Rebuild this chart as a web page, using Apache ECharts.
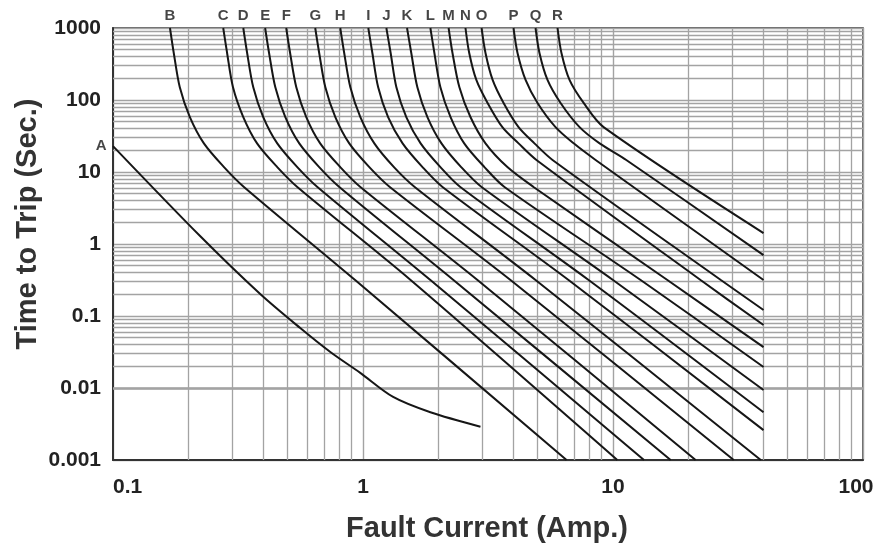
<!DOCTYPE html>
<html>
<head>
    <meta charset="utf-8" />
    <title>Time to Trip vs Fault Current</title>
    <script src="https://cdn.jsdelivr.net/npm/echarts@6/dist/echarts.min.js"></script>
    <style type="text/css">
        html, body {
            margin: 0;
            padding: 0;
            background-color: #ffffff;
            overflow: hidden;
        }

        #chart {
            width: 875px;
            height: 548px;
        }
    </style>
</head>
<body>
    <div id="chart"></div>
    <script type="text/javascript">
        // tick labels
        var xTicks = [0.1, 1, 10, 100];
        var yTicks = [0.001, 0.01, 0.1, 1, 10, 100, 1000];
        var minorSteps = [2, 3, 4, 5, 6, 7, 8, 9];

        // curves: [fault current (A), time to trip (s)]
        var curveNames = ['A', 'B', 'C', 'D', 'E', 'F', 'G', 'H', 'I', 'J', 'K', 'L', 'M', 'N', 'O', 'P', 'Q', 'R'];
        var curveA = [[0.1, 22.9], [0.223, 1.29], [0.388, 0.202], [0.561, 0.068], [0.74, 0.0316], [0.975, 0.0162], [1.32, 0.0075], [1.86, 0.0046], [2.95, 0.0029]];
        var curveB = [[0.169, 1000], [0.175, 450], [0.185, 150], [0.203, 58], [0.231, 25], [0.278, 11.7], [0.334, 6.2], [0.93, 0.316], [6.52, 0.001]];
        var curveC = [[0.276, 1000], [0.286, 450], [0.302, 150], [0.332, 58], [0.377, 25], [0.454, 11.7], [0.546, 6.2], [1.55, 0.316], [10.4, 0.001]];
        var curveD = [[0.332, 1000], [0.344, 450], [0.364, 150], [0.399, 58], [0.454, 25], [0.546, 11.7], [0.657, 6.2], [1.86, 0.316], [13.3, 0.001]];
        var curveE = [[0.406, 1000], [0.421, 450], [0.446, 150], [0.489, 58], [0.556, 25], [0.668, 11.7], [0.804, 6.2], [2.30, 0.316], [17.0, 0.001]];
        var curveF = [[0.493, 1000], [0.511, 450], [0.541, 150], [0.593, 58], [0.674, 25], [0.811, 11.7], [0.976, 6.2], [2.87, 0.316], [21.4, 0.001]];
        var curveG = [[0.644, 1000], [0.668, 450], [0.707, 150], [0.775, 58], [0.881, 25], [1.06, 11.7], [1.28, 6.2], [3.89, 0.316], [30.4, 0.001]];
        var curveH = [[0.811, 1000], [0.841, 450], [0.890, 150], [0.976, 58], [1.11, 25], [1.33, 11.7], [1.61, 6.2], [4.90, 0.316], [39.0, 0.001]];
        var curveI = [[1.05, 1000], [1.09, 450], [1.15, 150], [1.26, 58], [1.44, 25], [1.73, 11.7], [2.08, 6.2], [6.64, 0.316], [40, 0.0026]];
        var curveJ = [[1.24, 1000], [1.29, 450], [1.36, 150], [1.49, 58], [1.70, 25], [2.04, 11.7], [2.45, 6.2], [7.99, 0.316], [40, 0.0046]];
        var curveK = [[1.50, 1000], [1.56, 450], [1.65, 150], [1.81, 58], [2.06, 25], [2.47, 11.7], [2.98, 6.2], [10.0, 0.316], [40, 0.0094]];
        var curveL = [[1.86, 1000], [1.93, 450], [2.04, 150], [2.24, 58], [2.54, 25], [3.06, 11.7], [3.68, 6.2], [12.9, 0.316], [40, 0.0196]];
        var curveM = [[2.20, 1000], [2.28, 450], [2.43, 150], [2.69, 58], [3.09, 25], [3.78, 11.7], [4.81, 6.2], [16.5, 0.316], [40, 0.037]];
        var curveN = [[2.57, 1000], [2.66, 450], [2.84, 190], [3.15, 91], [3.61, 42], [4.19, 25], [4.94, 14.7], [22.4, 0.316], [40, 0.075]];
        var curveO = [[2.98, 1000], [3.09, 450], [3.30, 190], [3.65, 91], [4.19, 42], [4.85, 25], [5.73, 14.7], [27.0, 0.316], [40, 0.121]];
        var curveP = [[4.0, 1000], [4.15, 450], [4.47, 190], [4.99, 91], [5.89, 42], [6.96, 25], [8.52, 14.7], [40, 0.316]];
        var curveQ = [[4.9, 1000], [5.08, 450], [5.47, 190], [6.17, 91], [7.35, 42], [8.84, 25], [11.3, 14.7], [40, 0.70]];
        var curveR = [[6.0, 1000], [6.22, 450], [6.70, 190], [7.63, 91], [9.17, 42], [40, 1.42]];

        var curves = [curveA, curveB, curveC, curveD, curveE, curveF, curveG, curveH, curveI,
            curveJ, curveK, curveL, curveM, curveN, curveO, curveP, curveQ, curveR];

        var FONT = 'Liberation Sans, Arial, Helvetica, sans-serif';
        var GRID_COLOR = '#a3a3a3';
        var TICK_COLOR = '#222222';

        var fmt = function (v) {
            return String(Number(v.toPrecision(3)));
        };

        // log grid lines at 2..9 of every decade
        var gridLines = [];
        var addLines = function (ticks, key) {
            for (var i = 0; i < ticks.length - 1; i++) {
                for (var j = 0; j < minorSteps.length; j++) {
                    var item = {};
                    item[key] = Number((ticks[i] * minorSteps[j]).toPrecision(3));
                    gridLines.push(item);
                }
            }
        };
        addLines(xTicks, 'xAxis');
        addLines(yTicks, 'yAxis');

        var series = [{
            name: 'grid',
            type: 'line',
            data: [[xTicks[0], yTicks[0]]],
            showSymbol: false,
            lineStyle: { opacity: 0 },
            silent: true,
            z: 1,
            markLine: {
                silent: true,
                z: 1,
                symbol: ['none', 'none'],
                label: { show: false },
                lineStyle: { color: GRID_COLOR, width: 1.3, type: 'solid' },
                emphasis: { disabled: true },
                data: gridLines
            }
        }];

        var labelData = [];
        for (var k = 0; k < curves.length; k++) {
            series.push({
                name: curveNames[k],
                type: 'line',
                data: curves[k],
                showSymbol: false,
                smooth: 0.3,
                silent: true,
                z: 10,
                lineStyle: { color: '#161616', width: 2 }
            });
            var lab = { name: curveNames[k], value: curves[k][0] };
            if (curveNames[k] === 'A') {
                lab.label = { position: 'left', distance: 6 };
            }
            labelData.push(lab);
        }

        series.push({
            name: 'labels',
            type: 'scatter',
            data: labelData,
            symbolSize: 1,
            itemStyle: { color: 'rgba(0,0,0,0)' },
            silent: true,
            z: 11,
            label: {
                show: true,
                position: 'top',
                distance: 4,
                formatter: '{b}',
                fontFamily: FONT,
                fontWeight: 'bold',
                fontSize: 15,
                color: '#161616'
            }
        });

        var option = {
            animation: false,
            backgroundColor: '#ffffff',
            grid: {
                left: 113,
                right: 12,
                top: 28,
                bottom: 88,
                containLabel: false,
                outerBoundsMode: 'none',
                show: true,
                borderColor: '#333333',
                borderWidth: 1.5
            },
            xAxis: {
                type: 'log',
                logBase: 10,
                min: xTicks[0],
                max: xTicks[xTicks.length - 1],
                axisLine: { show: true, lineStyle: { color: '#333333', width: 2 } },
                axisTick: { show: false },
                splitLine: { show: true, lineStyle: { color: GRID_COLOR, width: 1.4 } },
                axisLabel: {
                    margin: 17,
                    alignMinLabel: 'left',
                    fontFamily: FONT,
                    fontWeight: 'bold',
                    fontSize: 21,
                    color: TICK_COLOR,
                    formatter: function (v) {
                        var s = fmt(v);
                        return v >= xTicks[xTicks.length - 1] ? '{last|' + s + '}' : s;
                    },
                    rich: {
                        last: {
                            padding: [0, 14, 0, 0],
                            fontFamily: FONT,
                            fontWeight: 'bold',
                            fontSize: 21,
                            color: TICK_COLOR
                        }
                    }
                }
            },
            yAxis: {
                type: 'log',
                logBase: 10,
                min: yTicks[0],
                max: yTicks[yTicks.length - 1],
                splitNumber: 6,
                axisLine: { show: true, lineStyle: { color: '#333333', width: 2 } },
                axisTick: { show: false },
                splitLine: { show: true, lineStyle: { color: GRID_COLOR, width: 1.4 } },
                axisLabel: {
                    margin: 12,
                    fontFamily: FONT,
                    fontWeight: 'bold',
                    fontSize: 21,
                    color: TICK_COLOR,
                    formatter: fmt
                }
            },
            graphic: [{
                type: 'text',
                x: 487,
                y: 529,
                style: {
                    text: 'Fault Current (Amp.)',
                    font: 'bold 29px ' + FONT,
                    fill: '#333333',
                    align: 'center',
                    verticalAlign: 'middle'
                }
            }, {
                type: 'text',
                x: 28,
                y: 224,
                rotation: Math.PI / 2,
                style: {
                    text: 'Time to Trip (Sec.)',
                    font: 'bold 29px ' + FONT,
                    fill: '#333333',
                    align: 'center',
                    verticalAlign: 'middle'
                }
            }],
            series: series
        };

        var myChart = echarts.init(document.getElementById('chart'), null, { renderer: 'canvas' });
        myChart.setOption(option);
    </script>
</body>
</html>
